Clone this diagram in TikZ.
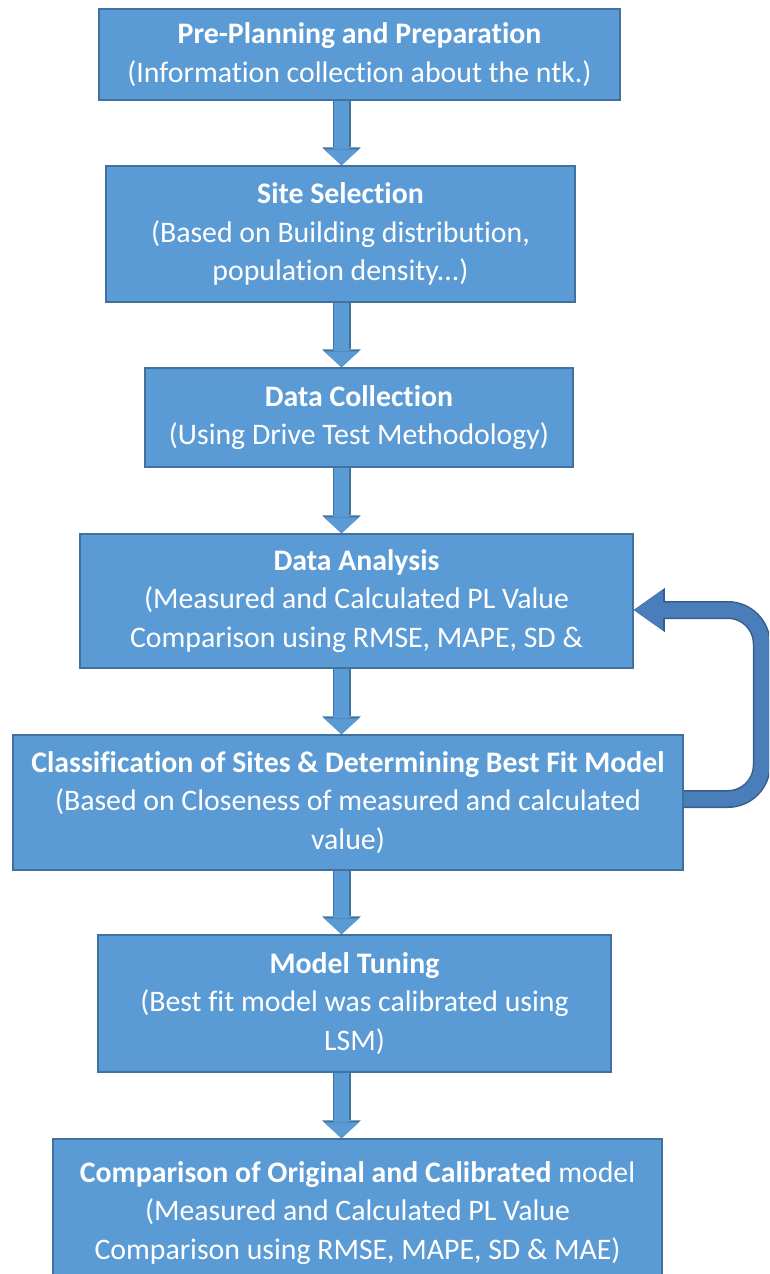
\documentclass[tikz,border=0pt]{standalone}
\usepackage{fontspec}
\setmainfont{Carlito}[Ligatures=NoCommon]
\usetikzlibrary{arrows.meta, positioning}
\definecolor{boxblue}{RGB}{91,155,213}
\definecolor{boxedge}{RGB}{65,113,156}
\definecolor{loopblue}{RGB}{74,126,187}
\definecolor{loopedge}{RGB}{56,93,138}

\tikzset{
    stage/.style={draw=boxedge, line width=1.5pt, fill=boxblue, text=white, align=center, inner sep=0pt, font=\fontsize{29.8}{38.5}\selectfont},
    downarrow/.style={draw=boxblue, line width=15pt, -{Triangle[width=35pt 0 0, length=16pt 0 0, line width=0pt 0 0]},
        preaction={draw=boxedge, line width=18pt, -{Triangle[width=39pt 0 0, length=18pt 0 0, line width=0pt 0 0]}}},
    looparrow/.style={draw=loopblue, line width=15pt, rounded corners=34pt, -{Triangle[width=40pt 0 0, length=29pt 0 0, line width=0pt 0 0]},
        preaction={draw=loopedge, line width=18pt, rounded corners=34pt, -{Triangle[width=44pt 0 0, length=31pt 0 0, line width=0pt 0 0]}}}
}

\begin{document}
\begin{tikzpicture}[x=1pt, y=-1pt]
    \useasboundingbox (0,0) rectangle (769,1274);
    \clip (0,0) rectangle (769,1274);

    % stages
    \node[stage, minimum width=521pt, minimum height=91pt] (pre) at (359.5,54.5)
        {\textbf{Pre-Planning and Preparation}\\(Information collection about the ntk.)};
    \node[stage, minimum width=469pt, minimum height=136pt] (site) at (340.5,234)
        {\textbf{Site Selection}\\(Based on Building distribution,\\population density...)};
    \node[stage, minimum width=428pt, minimum height=99pt] (collect) at (359,417.5)
        {\textbf{Data Collection}\\(Using Drive Test Methodology)};
    \node[stage, minimum width=553pt, minimum height=134pt] (analysis) at (356.5,601)
        {\textbf{Data Analysis}\\(Measured and Calculated PL Value\\Comparison using RMSE, MAPE, SD \&};
    \node[stage, minimum width=670pt, minimum height=135pt] (classify) at (348,802.5)
        {\textbf{Classification of Sites \& Determining Best Fit Model}\\(Based on Closeness of measured and calculated\\value)};
    \node[stage, minimum width=513pt, minimum height=137pt] (tuning) at (354.5,1003.5)
        {\textbf{Model Tuning}\\(Best fit model was calibrated using\\LSM)};
    \node[stage, minimum width=609pt, minimum height=148pt] (compare) at (357.5,1213)
        {\textbf{Comparison of Original and Calibrated} model\\(Measured and Calculated PL Value\\Comparison using RMSE, MAPE, SD \& MAE)};

    % block arrows
    \coordinate (axis) at (341.5,0);
    \draw[downarrow] (pre.south -| axis) -- (site.north -| axis);
    \draw[downarrow] (site.south -| axis) -- (collect.north -| axis);
    \draw[downarrow] (collect.south -| axis) -- (analysis.north -| axis);
    \draw[downarrow] (analysis.south -| axis) -- (classify.north -| axis);
    \draw[downarrow] (classify.south -| axis) -- (tuning.north -| axis);
    \draw[downarrow] (tuning.south -| axis) -- (compare.north -| axis);

    % feedback loop
    \draw[looparrow] ([yshift=3.5pt]classify.east) -- ++(78,0) |- ([yshift=-9pt]analysis.east);
\end{tikzpicture}
\end{document}
